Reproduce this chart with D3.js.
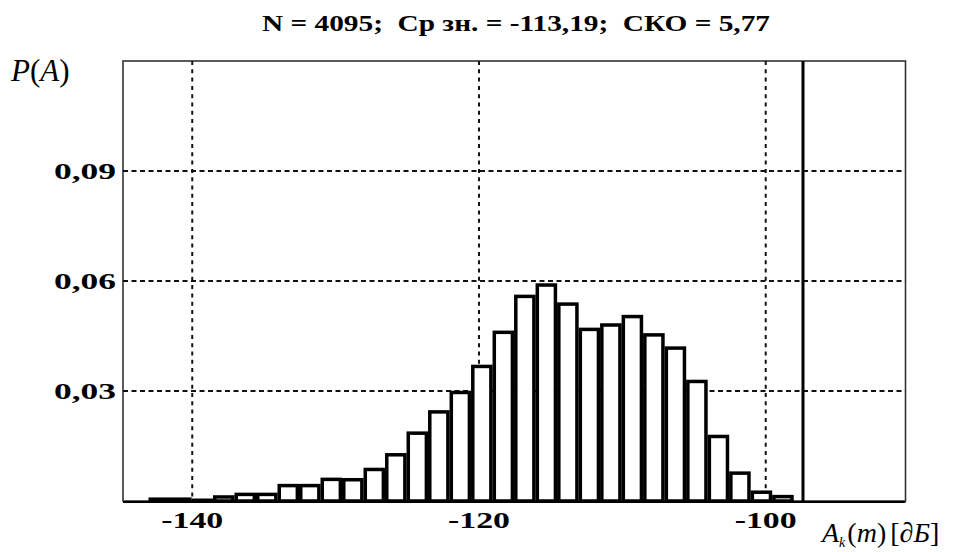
<!DOCTYPE html>
<html>
<head>
<meta charset="utf-8">
<script src="https://cdn.jsdelivr.net/npm/d3@7"></script>
<style>
  body { margin: 0; background: #fff; }
  svg { display: block; }
</style>
</head>
<body>
<div id="chart"></div>
<script>
// histogram of level values, probabilities per bin
var binStart = -143.05;
var binWidth = 1.5;
var probs = [
    0.0005, 0.0005, 0.0002, 0.0011, 0.0018, 0.0018, 0.0042, 0.0042, 0.0059, 0.0058,
    0.0086, 0.0126, 0.0185, 0.0243, 0.0296, 0.0367, 0.0460, 0.0558, 0.0589, 0.0537,
    0.0468, 0.0480, 0.0503, 0.0453, 0.0417, 0.0326, 0.0176, 0.0076, 0.0024, 0.0012
];
var xTicks = [-140, -120, -100];
var yTicks = [0.03, 0.06, 0.09];
var markerValue = -97.4;
var titleText = 'N = 4095;  Ср зн. = -113,19;  СКО = 5,77';

var width = 957, height = 552;
// plot box (top is taken by window.top, so use other names)
var pL = 123, pR = 905.5, pT = 61, pB = 501;
var serif = '"Liberation Serif", "Times New Roman", serif';

var svg = d3.select('#chart').append('svg')
    .attr('width', width)
    .attr('height', height);

var x = d3.scaleLinear().domain([-144.83, -90.25]).range([pL, pR]);
var y = d3.scaleLinear().domain([0, 0.12]).range([pB, pT]);

var ru = d3.formatLocale({decimal: ',', thousands: ' ', grouping: [3], currency: ['', '']});
var yFmt = ru.format('.2f');

// frame
svg.append('rect')
    .attr('x', pL)
    .attr('y', pT)
    .attr('width', pR - pL)
    .attr('height', pB - pT)
    .attr('fill', 'none')
    .attr('stroke', '#333')
    .attr('stroke-width', 1.6);

// grid
svg.selectAll('.hgrid').data(yTicks).enter().append('line')
    .attr('class', 'hgrid')
    .attr('x1', pL)
    .attr('x2', pR)
    .attr('y1', function(d) { return y(d); })
    .attr('y2', function(d) { return y(d); })
    .attr('stroke', '#111')
    .attr('stroke-width', 2)
    .attr('stroke-dasharray', '5,3.5');

svg.selectAll('.vgrid').data(xTicks).enter().append('line')
    .attr('class', 'vgrid')
    .attr('x1', function(d) { return x(d); })
    .attr('x2', function(d) { return x(d); })
    .attr('y1', pT)
    .attr('y2', pB)
    .attr('stroke', '#111')
    .attr('stroke-width', 2)
    .attr('stroke-dasharray', '4,4.3');

// bars
svg.selectAll('.bar').data(probs).enter().append('rect')
    .attr('class', 'bar')
    .attr('x', function(d, i) { return x(binStart + i * binWidth) + 1.7; })
    .attr('width', function(d, i) {
        return x(binStart + (i + 1) * binWidth) - x(binStart + i * binWidth) - 3.4;
    })
    .attr('y', function(d) { return y(d); })
    .attr('height', function(d) { return pB - y(d); })
    .attr('fill', '#fff')
    .attr('stroke', '#000')
    .attr('stroke-width', 3.5);

// marker line
svg.append('line')
    .attr('x1', x(markerValue))
    .attr('x2', x(markerValue))
    .attr('y1', pT)
    .attr('y2', pB)
    .attr('stroke', '#000')
    .attr('stroke-width', 3);

// bottom axis line
svg.append('line')
    .attr('x1', pL)
    .attr('x2', pR)
    .attr('y1', pB + 1)
    .attr('y2', pB + 1)
    .attr('stroke', '#000')
    .attr('stroke-width', 2.2);

// tick labels
svg.selectAll('.xlab').data(xTicks).enter().append('text')
    .attr('class', 'xlab')
    .attr('x', function(d) { return x(d); })
    .attr('y', 528)
    .attr('text-anchor', 'middle')
    .attr('textLength', 62)
    .attr('lengthAdjust', 'spacingAndGlyphs')
    .style('font', 'bold 24px ' + serif)
    .text(function(d) { return d3.format('d')(d).replace('−', '-'); });

svg.selectAll('.ylab').data(yTicks).enter().append('text')
    .attr('class', 'ylab')
    .attr('x', 116)
    .attr('y', function(d) { return y(d) + 8; })
    .attr('text-anchor', 'end')
    .attr('textLength', 62)
    .attr('lengthAdjust', 'spacingAndGlyphs')
    .style('font', 'bold 24px ' + serif)
    .text(function(d) { return yFmt(d); });

// title
svg.append('text')
    .attr('x', 516)
    .attr('y', 31)
    .attr('text-anchor', 'middle')
    .attr('textLength', 508)
    .attr('lengthAdjust', 'spacingAndGlyphs')
    .style('font', 'bold 24px ' + serif)
    .attr('xml:space', 'preserve')
    .text(titleText);

// axis names
var pa = svg.append('text')
    .attr('x', 11)
    .attr('y', 81)
    .style('font', '31px ' + serif);
pa.append('tspan').attr('font-style', 'italic').text('P');
pa.append('tspan').text('(');
pa.append('tspan').attr('font-style', 'italic').text('A');
pa.append('tspan').text(')');

var ax = svg.append('text')
    .attr('x', 822)
    .attr('y', 542)
    .style('font', '28px ' + serif);
ax.append('tspan').attr('font-style', 'italic').text('A');
ax.append('tspan').attr('font-style', 'italic').attr('font-size', '14px').attr('dy', 5).text('k');
ax.append('tspan').attr('dy', -5).attr('dx', 2).text('(');
ax.append('tspan').attr('font-style', 'italic').text('m');
ax.append('tspan').text(')');
ax.append('tspan').attr('dx', 4).text('[');
ax.append('tspan').attr('font-style', 'italic').text('∂Б');
ax.append('tspan').text(']');
</script>
</body>
</html>
